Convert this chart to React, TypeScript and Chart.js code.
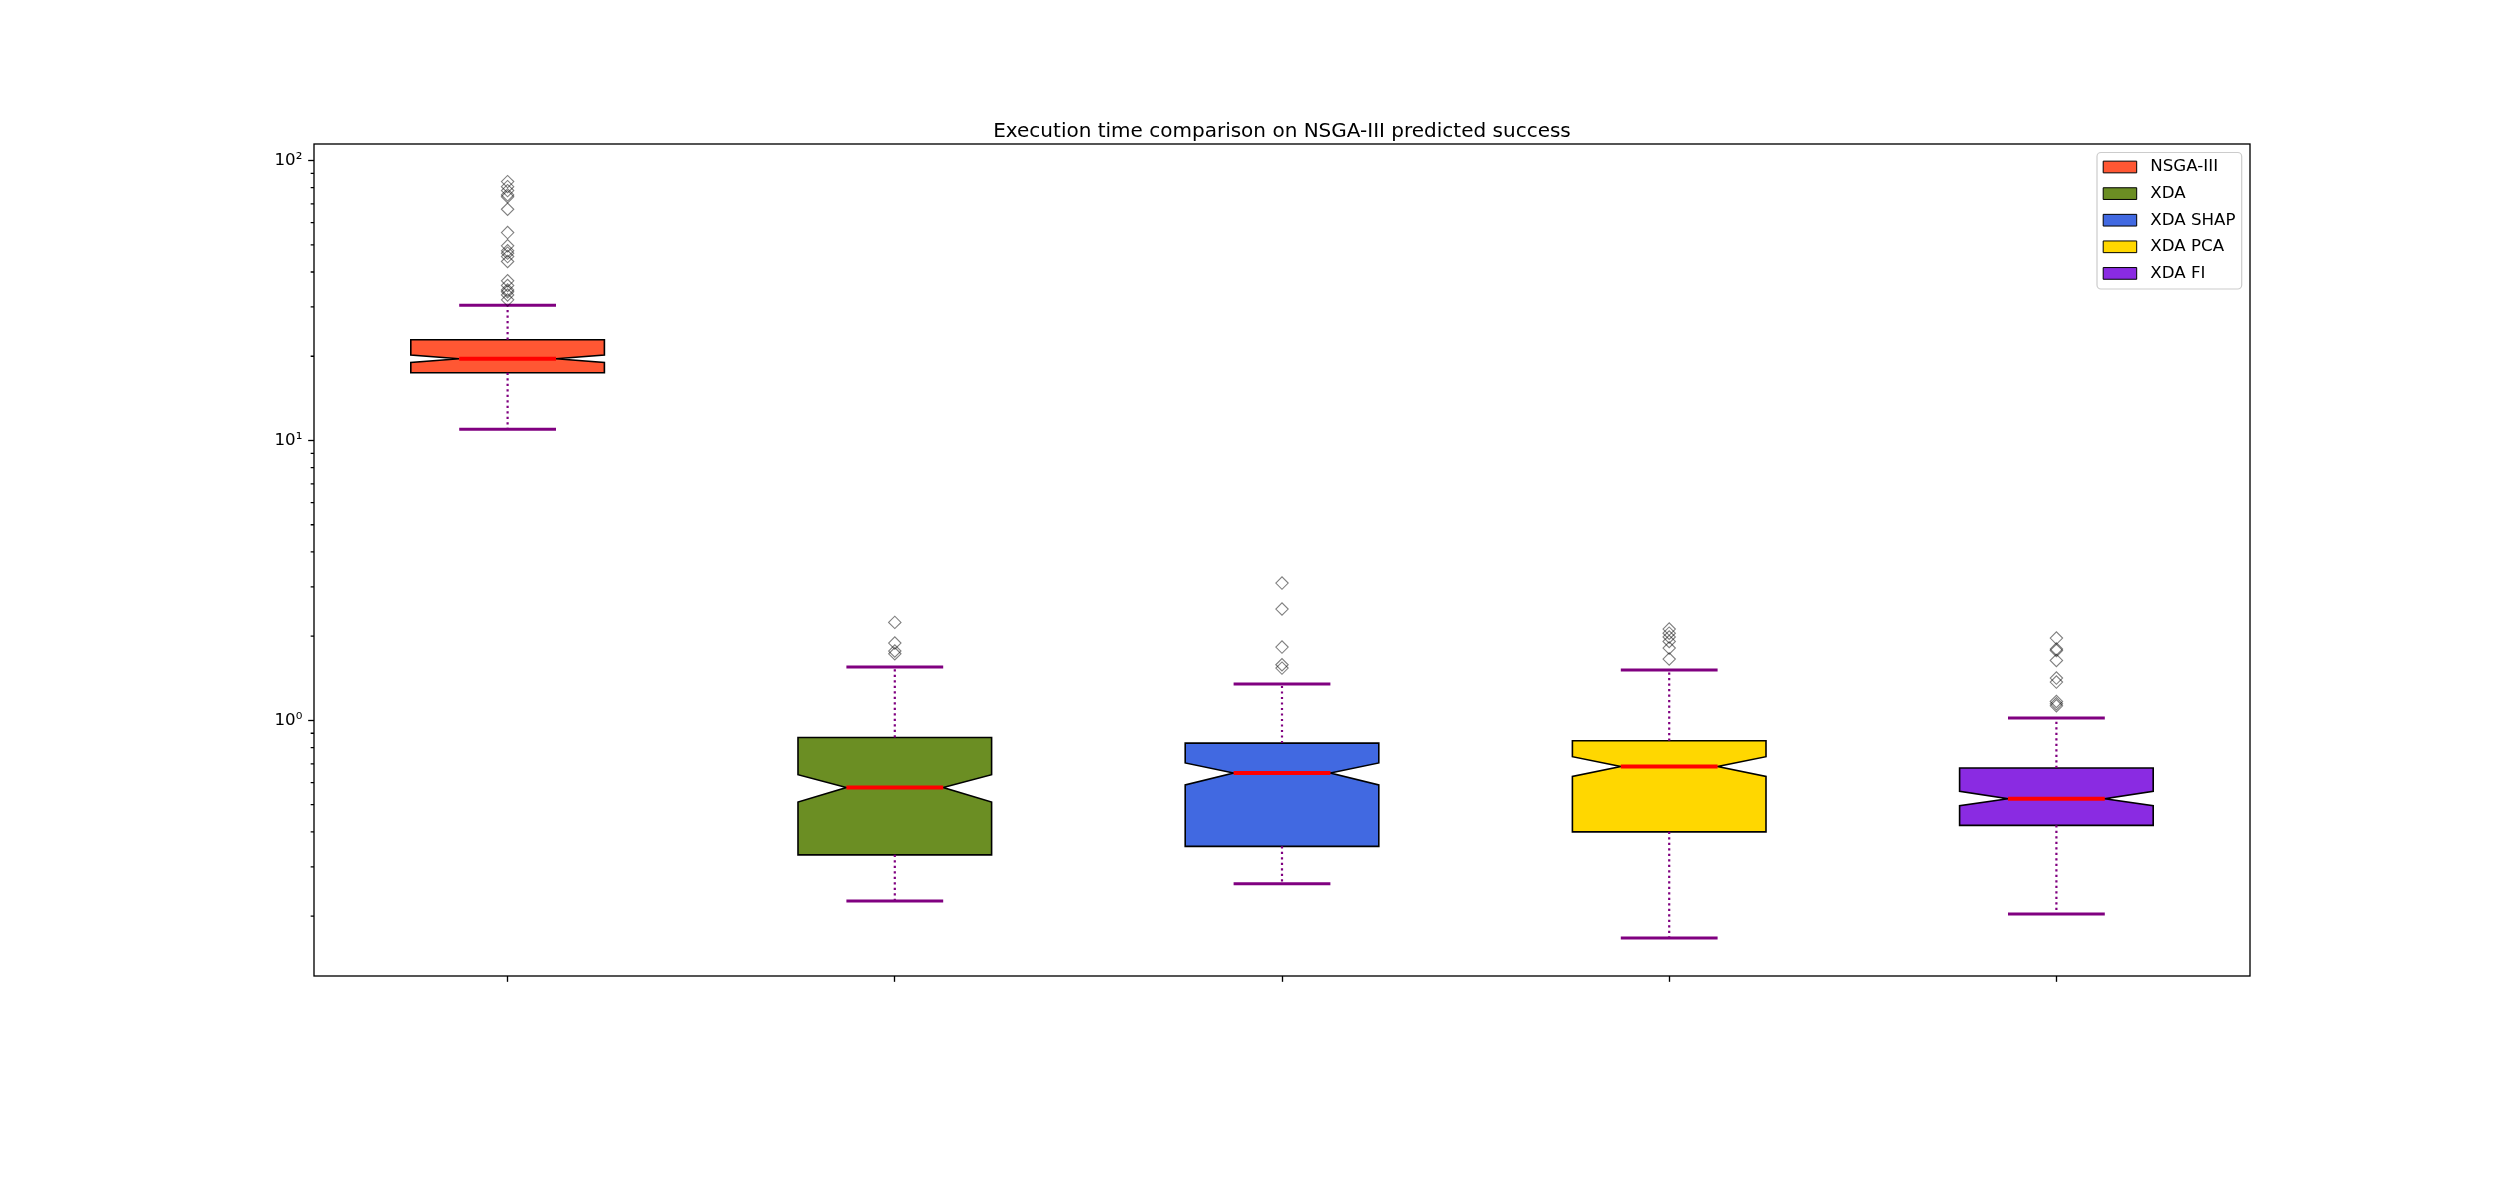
import React, { useEffect, useRef } from 'react';
import { Chart, registerables } from 'chart.js';

Chart.register(...registerables);

// ---------------- data ----------------
const TITLE = 'Execution time comparison on NSGA-III predicted success';
const CATEGORIES = ['NSGA-III', 'XDA', 'XDA SHAP', 'XDA PCA', 'XDA FI'];
const BOX_COLORS = ['#FF5733', '#6B8E23', '#4169E1', '#FFD700', '#8A2BE2'];

const Q1 = [17.45, 0.331, 0.355, 0.4, 0.422];
const MEDIAN = [19.6, 0.576, 0.649, 0.685, 0.525];
const Q3 = [22.9, 0.869, 0.83, 0.846, 0.676];
const NOTCH_LOW = [19.0, 0.511, 0.588, 0.631, 0.496];
const NOTCH_HIGH = [20.2, 0.64, 0.705, 0.742, 0.558];
const WHISKER_LOW = [10.98, 0.2265, 0.261, 0.167, 0.2035];
const WHISKER_HIGH = [30.4, 1.551, 1.349, 1.514, 1.02];

const OUTLIERS_NSGA = [84.1, 80.7, 78.1, 75.4, 74.3, 67.0, 55.3, 49.6, 47.6, 46.7, 45.4, 43.6, 37.2, 35.8, 34.5, 34.0, 33.1, 31.8];
const OUTLIERS_XDA = [2.24, 1.89, 1.77, 1.73];
const OUTLIERS_SHAP = [3.095, 2.5, 1.828, 1.581, 1.538];
const OUTLIERS_PCA = [2.12, 2.05, 1.987, 1.915, 1.814, 1.657];
const OUTLIERS_FI = [1.969, 1.799, 1.778, 1.638, 1.417, 1.371, 1.169, 1.147, 1.128];
const OUTLIERS = [OUTLIERS_NSGA, OUTLIERS_XDA, OUTLIERS_SHAP, OUTLIERS_PCA, OUTLIERS_FI];

const X_POSITIONS = [1, 2, 3, 4, 5];
const Y_MIN = 0.1222;
const Y_MAX = 114.6;
const Y_MAJOR_TICKS = [1, 10, 100];
const Y_MAJOR_LABELS = ['10⁰', '10¹', '10²'];
const Y_MINOR_TICKS = [
  0.2, 0.3, 0.4, 0.5, 0.6, 0.7, 0.8, 0.9,
  2, 3, 4, 5, 6, 7, 8, 9,
  20, 30, 40, 50, 60, 70, 80, 90,
];

// ---------------- styles ----------------
const BOX_WIDTH = 0.5;
const WHISKER_COLOR = '#800080';
const MEDIAN_COLOR = '#FF0000';
const FONT = "'DejaVu Sans', sans-serif";
const BASE_FONT = 16.67;
const TICK_LEN = 5.83;
const MINOR_TICK_LEN = 3.33;
const AXIS_LW = 1.33;

const boxPlugin = {
  id: 'notchedBoxes',
  beforeDraw(chart: any) {
    const { ctx, chartArea: ca } = chart;
    ctx.save();
    ctx.fillStyle = '#ffffff';
    ctx.fillRect(0, 0, chart.width, chart.height);
    // legend frame
    const fx = ca.right - 153;
    const fy = ca.top + 8.5;
    const fw = 144.7;
    const fh = 136.5;
    const r = 4;
    ctx.beginPath();
    ctx.moveTo(fx + r, fy);
    ctx.lineTo(fx + fw - r, fy);
    ctx.arcTo(fx + fw, fy, fx + fw, fy + r, r);
    ctx.lineTo(fx + fw, fy + fh - r);
    ctx.arcTo(fx + fw, fy + fh, fx + fw - r, fy + fh, r);
    ctx.lineTo(fx + r, fy + fh);
    ctx.arcTo(fx, fy + fh, fx, fy + fh - r, r);
    ctx.lineTo(fx, fy + r);
    ctx.arcTo(fx, fy, fx + r, fy, r);
    ctx.closePath();
    ctx.fillStyle = 'rgba(255,255,255,0.8)';
    ctx.fill();
    ctx.strokeStyle = '#cccccc';
    ctx.lineWidth = 1.2;
    ctx.stroke();
    ctx.restore();
  },
  afterLayout(chart: any) {
    const lg = chart.legend;
    const ca = chart.chartArea;
    if (!lg) return;
    const pad = lg.options.labels.padding;
    lg.left = ca.right - 146.8 - pad;
    lg.top = ca.top + 14.67 - pad;
    lg.right = lg.left + lg.width;
    lg.bottom = lg.top + 600;
  },
  beforeDatasetsDraw(chart: any) {
    const { ctx, scales } = chart;
    const x = scales.x;
    const y = scales.y;
    ctx.save();
    CATEGORIES.forEach((_, i) => {
      const pos = X_POSITIONS[i];
      const xc = x.getPixelForValue(pos);
      const xl = x.getPixelForValue(pos - BOX_WIDTH / 2);
      const xr = x.getPixelForValue(pos + BOX_WIDTH / 2);
      const nl = x.getPixelForValue(pos - BOX_WIDTH / 4);
      const nr = x.getPixelForValue(pos + BOX_WIDTH / 4);
      const yq1 = y.getPixelForValue(Q1[i]);
      const yq3 = y.getPixelForValue(Q3[i]);
      const ymed = y.getPixelForValue(MEDIAN[i]);
      const ynl = y.getPixelForValue(NOTCH_LOW[i]);
      const ynh = y.getPixelForValue(NOTCH_HIGH[i]);
      const ywl = y.getPixelForValue(WHISKER_LOW[i]);
      const ywh = y.getPixelForValue(WHISKER_HIGH[i]);

      // box
      ctx.beginPath();
      ctx.moveTo(xl, yq1);
      ctx.lineTo(xr, yq1);
      ctx.lineTo(xr, ynl);
      ctx.lineTo(nr, ymed);
      ctx.lineTo(xr, ynh);
      ctx.lineTo(xr, yq3);
      ctx.lineTo(xl, yq3);
      ctx.lineTo(xl, ynh);
      ctx.lineTo(nl, ymed);
      ctx.lineTo(xl, ynl);
      ctx.closePath();
      ctx.fillStyle = BOX_COLORS[i];
      ctx.fill();
      ctx.strokeStyle = '#000000';
      ctx.lineWidth = 1.6;
      ctx.lineJoin = 'miter';
      ctx.stroke();

      // whiskers (dotted)
      ctx.strokeStyle = WHISKER_COLOR;
      ctx.lineWidth = 2.2;
      ctx.setLineDash([2.2, 3.3]);
      ctx.beginPath();
      ctx.moveTo(xc, yq3);
      ctx.lineTo(xc, ywh);
      ctx.moveTo(xc, yq1);
      ctx.lineTo(xc, ywl);
      ctx.stroke();
      ctx.setLineDash([]);

      // caps
      ctx.lineWidth = 3;
      ctx.beginPath();
      ctx.moveTo(nl, ywh);
      ctx.lineTo(nr, ywh);
      ctx.moveTo(nl, ywl);
      ctx.lineTo(nr, ywl);
      ctx.stroke();

      // median
      ctx.strokeStyle = MEDIAN_COLOR;
      ctx.lineWidth = 4;
      ctx.beginPath();
      ctx.moveTo(nl, ymed);
      ctx.lineTo(nr, ymed);
      ctx.stroke();
    });
    ctx.restore();
  },
  afterDraw(chart: any) {
    const { ctx, chartArea: ca, scales } = chart;
    const y = scales.y;
    ctx.save();
    ctx.strokeStyle = '#000000';
    ctx.lineWidth = AXIS_LW;
    // minor y ticks
    ctx.beginPath();
    Y_MINOR_TICKS.forEach((v) => {
      if (v < Y_MIN || v > Y_MAX) return;
      const py = y.getPixelForValue(v);
      ctx.moveTo(ca.left, py);
      ctx.lineTo(ca.left - MINOR_TICK_LEN, py);
    });
    ctx.stroke();
    // spines
    ctx.strokeRect(ca.left, ca.top, ca.right - ca.left, ca.bottom - ca.top);
    ctx.restore();
  },
};

export default function App() {
  const ref = useRef<HTMLCanvasElement | null>(null);

  useEffect(() => {
    if (!ref.current) return;
    Chart.defaults.font.family = FONT;
    Chart.defaults.color = '#000000';

    const datasets = CATEGORIES.map((label, i) => ({
      type: 'scatter' as const,
      label,
      data: OUTLIERS[i].map((v) => ({ x: X_POSITIONS[i], y: v })),
      backgroundColor: BOX_COLORS[i],
      borderColor: '#000000',
      pointStyle: 'rectRot',
      pointRadius: 6.2,
      pointHoverRadius: 6.2,
      pointBorderWidth: 1.1,
      pointBackgroundColor: 'rgba(0,0,0,0)',
      pointBorderColor: 'rgba(0,0,0,0.5)',
      showLine: false,
    }));

    const chart = new Chart(ref.current, {
      type: 'scatter',
      data: { datasets },
      plugins: [boxPlugin],
      options: {
        animation: false,
        responsive: false,
        devicePixelRatio: 1,
        events: [],
        layout: { padding: { left: 244, right: 250, top: 120, bottom: 204 } },
        plugins: {
          tooltip: { enabled: false },
          title: {
            display: true,
            text: TITLE,
            fullSize: false,
            color: '#000000',
            font: { size: 20, weight: 'normal', family: FONT, lineHeight: 1.2 },
            padding: { top: 0, bottom: 0 },
          },
          legend: {
            display: true,
            position: 'chartArea',
            align: 'start',
            labels: {
              boxWidth: 33.5,
              boxHeight: 11.7,
              padding: 9.93,
              color: '#000000',
              font: { size: BASE_FONT, family: FONT },
              generateLabels: (c: any) =>
                c.data.datasets.map((ds: any, i: number) => ({
                  text: ' ' + ds.label,
                  fillStyle: BOX_COLORS[i],
                  strokeStyle: '#000000',
                  lineWidth: 1,
                  hidden: false,
                  datasetIndex: i,
                  fontColor: '#000000',
                })),
            },
          },
        },
        scales: {
          x: {
            type: 'linear',
            min: 0.5,
            max: 5.5,
            afterBuildTicks: (s: any) => {
              s.ticks = X_POSITIONS.map((v) => ({ value: v }));
            },
            afterFit: (s: any) => {
              s.height = 20;
            },
            ticks: { callback: () => '', padding: 0 },
            grid: {
              display: true,
              drawOnChartArea: false,
              drawTicks: true,
              tickLength: TICK_LEN,
              tickColor: '#000000',
              tickWidth: AXIS_LW,
            },
            border: { display: false },
          },
          y: {
            type: 'logarithmic',
            min: Y_MIN,
            max: Y_MAX,
            afterBuildTicks: (s: any) => {
              s.ticks = Y_MAJOR_TICKS.filter((v) => v >= Y_MIN && v <= Y_MAX).map((v) => ({ value: v }));
            },
            afterFit: (s: any) => {
              s.width = 70;
            },
            ticks: {
              autoSkip: false,
              padding: 5.83,
              color: '#000000',
              font: { size: BASE_FONT, family: FONT },
              callback: (v: any) => {
                const idx = Y_MAJOR_TICKS.indexOf(Number(v));
                return idx >= 0 ? Y_MAJOR_LABELS[idx] : '';
              },
            },
            grid: {
              display: true,
              drawOnChartArea: false,
              drawTicks: true,
              tickLength: TICK_LEN,
              tickColor: '#000000',
              tickWidth: AXIS_LW,
            },
            border: { display: false },
          },
        },
      },
    } as any);

    return () => chart.destroy();
  }, []);

  return (
    <div style={{ position: 'absolute', left: 0, top: 0, width: 2500, height: 1200, background: '#ffffff' }}>
      <canvas ref={ref} width={2500} height={1200} style={{ display: 'block', width: 2500, height: 1200 }} />
    </div>
  );
}
